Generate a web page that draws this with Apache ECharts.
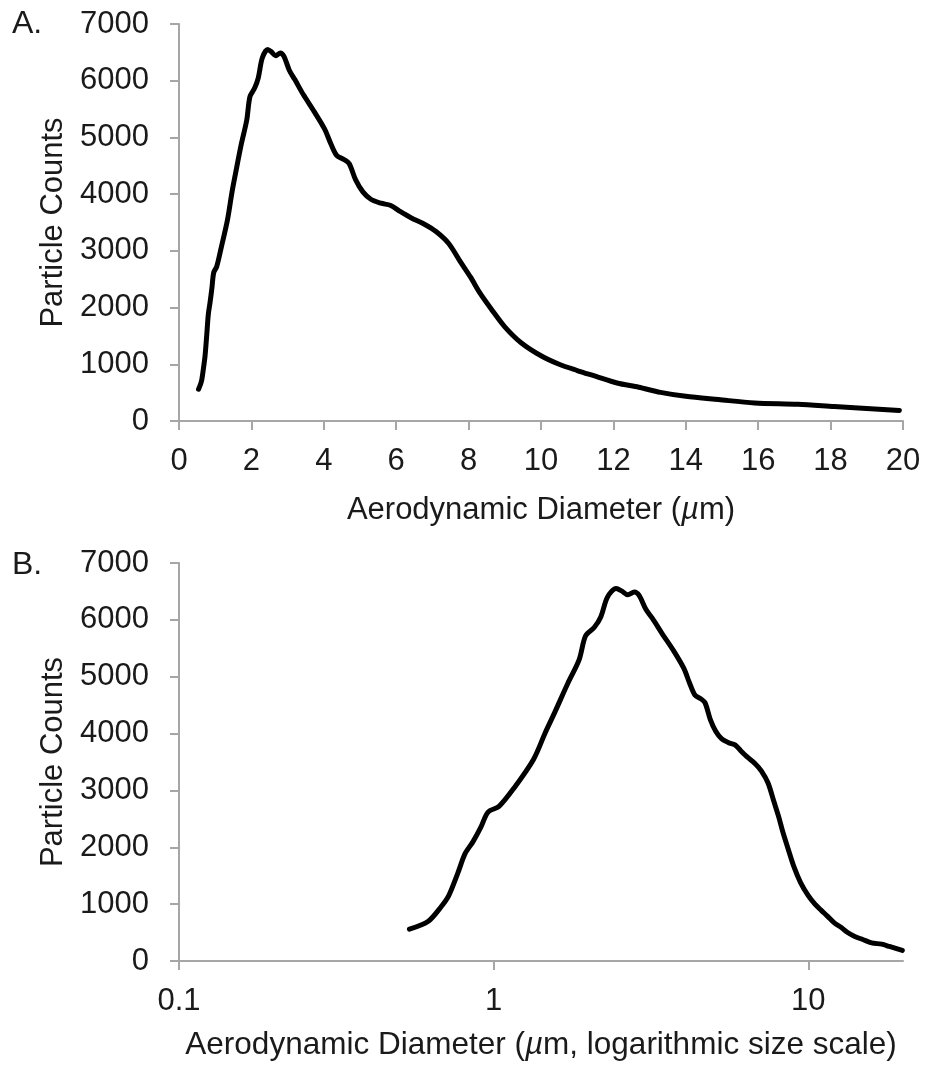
<!DOCTYPE html>
<html>
<head>
<meta charset="utf-8">
<script src="https://cdn.jsdelivr.net/npm/echarts@6/dist/echarts.min.js"></script>
<style>
html,body{margin:0;padding:0;background:#fff;}
#chart{width:925px;height:1070px;}
</style>
</head>
<body>
<div id="chart"></div>
<script>
// Aerodynamic diameter (µm)
var diameters = [0.54, 0.62, 0.68, 0.72, 0.77, 0.81, 0.86, 0.91, 0.96, 1.04, 1.16, 1.34, 1.46, 1.56, 1.72, 1.87, 1.96, 2.09, 2.19, 2.30, 2.45, 2.55, 2.67, 2.80, 2.90, 3.05, 3.20, 3.43, 3.73, 4.02, 4.20, 4.36, 4.56, 4.70, 4.88, 5.08, 5.30, 5.58, 5.85, 6.12, 6.42, 6.78, 7.10, 7.45, 7.78, 8.05, 8.32, 8.62, 9.0, 9.45, 10.0, 10.5, 11.0, 11.5, 12.1, 12.7, 13.3, 14.0, 14.9, 15.9, 17.1, 18.1, 19.9];
// Particle counts
var counts = [560, 700, 950, 1150, 1550, 1880, 2100, 2350, 2620, 2720, 3040, 3550, 4020, 4360, 4880, 5300, 5720, 5870, 6050, 6400, 6550, 6510, 6440, 6490, 6430, 6180, 6020, 5760, 5460, 5150, 4880, 4680, 4610, 4540, 4250, 4040, 3910, 3840, 3800, 3690, 3580, 3470, 3340, 3130, 2800, 2540, 2250, 1980, 1660, 1380, 1150, 1000, 890, 790, 670, 595, 505, 435, 378, 318, 296, 256, 186];
var yTicks = [0, 1000, 2000, 3000, 4000, 5000, 6000, 7000];
var logTicks = [0.1, 1, 10];
var panelLabels = ['A.', 'B.'];
var xNameA = '{n|Aerodynamic Diameter (}{i|\u00b5}{n|m)}';
var xNameB = '{n|Aerodynamic Diameter (}{i|\u00b5}{n|m, logarithmic size scale)}';
var yName = 'Particle Counts';

var pairs = diameters.map(function (d, i) { return [d, counts[i]]; });

var FONT = 'Liberation Sans, Arial, sans-serif';
var TXT = '#1a1a1a';
var AX = '#a6a6a6';

function nameStyle(size) {
  return {
    fontFamily: FONT, fontSize: size, color: TXT,
    rich: {
      n: { fontFamily: FONT, fontSize: size, color: TXT },
      i: { fontFamily: FONT, fontSize: size, color: TXT, fontStyle: 'italic' }
    }
  };
}

function yAxis(idx) {
  return {
    gridIndex: idx, type: 'value', min: 0, max: 7000, interval: 1000,
    name: yName, nameLocation: 'middle', nameGap: 110,
    nameTextStyle: { fontFamily: FONT, fontSize: 31, color: TXT },
    axisLine: { show: true, lineStyle: { color: AX, width: 2 } },
    axisTick: { show: true, length: 9, lineStyle: { color: AX, width: 2 } },
    axisLabel: { fontFamily: FONT, fontSize: 31, color: TXT, margin: 30,
      formatter: function (v) { return String(v); } },
    splitLine: { show: false }
  };
}

var chart = echarts.init(document.getElementById('chart'), null, { renderer: 'canvas' });
chart.setOption({
  backgroundColor: '#fff',
  animation: false,
  title: [
    { text: panelLabels[0], left: 12, top: 8, padding: 0, textStyle: { fontFamily: FONT, fontSize: 32, fontWeight: 'normal', color: TXT } },
    { text: panelLabels[1], left: 12, top: 549, padding: 0, textStyle: { fontFamily: FONT, fontSize: 32, fontWeight: 'normal', color: TXT } }
  ],
  grid: [
    { left: 179, top: 24, width: 724, height: 397 },
    { left: 179, top: 563, width: 724, height: 398 }
  ],
  xAxis: [
    {
      gridIndex: 0, type: 'value', min: 0, max: 20, interval: 2,
      name: xNameA, nameLocation: 'middle', nameGap: 74,
      nameTextStyle: nameStyle(31),
      axisLine: { show: true, lineStyle: { color: AX, width: 2 } },
      axisTick: { show: true, length: 9, lineStyle: { color: AX, width: 2 } },
      axisLabel: { fontFamily: FONT, fontSize: 31, color: TXT, margin: 25 },
      splitLine: { show: false }
    },
    {
      gridIndex: 1, type: 'log', logBase: 10, min: 0.1, max: 20,
      name: xNameB, nameLocation: 'middle', nameGap: 68,
      nameTextStyle: nameStyle(31.5),
      axisLine: { show: true, lineStyle: { color: AX, width: 2 } },
      axisTick: { show: true, length: 9, customValues: logTicks, lineStyle: { color: AX, width: 2 } },
      axisLabel: { fontFamily: FONT, fontSize: 31, color: TXT, margin: 25, customValues: logTicks,
        formatter: function (v) { return String(v); } },
      minorTick: { show: false },
      splitLine: { show: false }
    }
  ],
  yAxis: [yAxis(0), yAxis(1)],
  series: [
    { type: 'line', xAxisIndex: 0, yAxisIndex: 0, data: pairs, smooth: 0.3, symbol: 'none',
      lineStyle: { color: '#000', width: 5, cap: 'round', join: 'round' } },
    { type: 'line', xAxisIndex: 1, yAxisIndex: 1, data: pairs, smooth: 0.3, symbol: 'none',
      lineStyle: { color: '#000', width: 5, cap: 'round', join: 'round' } }
  ]
});
</script>
</body>
</html>
